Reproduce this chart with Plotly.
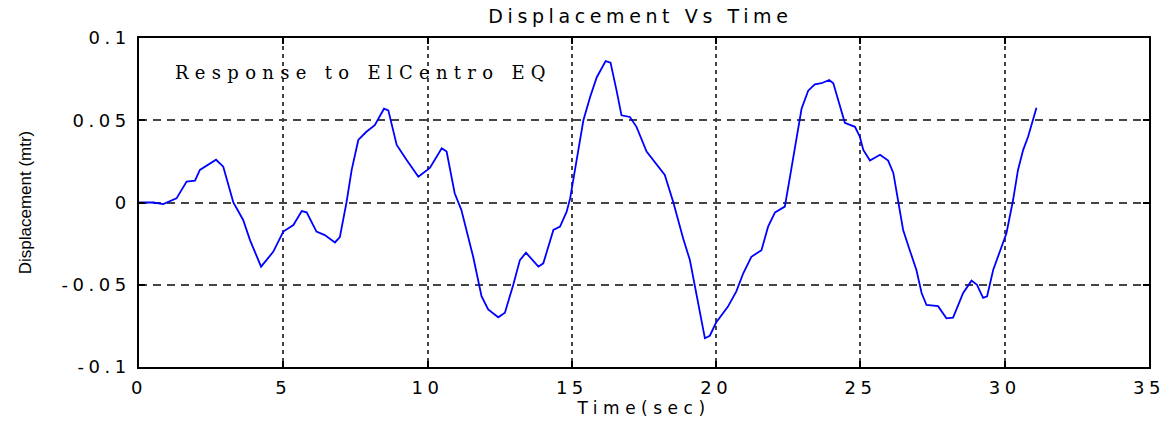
import plotly.graph_objects as go

# Displacement response history (time in seconds, displacement in metres)
time_s = [0, 0.5, 0.84, 1.3, 1.65, 1.94, 2.11, 2.67, 2.92, 3.27, 3.61, 3.85, 4.23, 4.65,
          5.0, 5.35, 5.64, 5.81, 6.15, 6.44, 6.79, 6.96, 7.19, 7.37, 7.6, 7.88, 8.17,
          8.49, 8.64, 8.93, 9.27, 9.68, 10.08, 10.49, 10.66, 10.94, 11.17, 11.58, 11.87,
          12.1, 12.45, 12.68, 12.97, 13.2, 13.41, 13.6, 13.84, 14.01, 14.36, 14.59, 14.82,
          14.94, 15.11, 15.4, 15.63, 15.86, 16.17, 16.34, 16.55, 16.72, 17.01, 17.24,
          17.59, 17.94, 18.22, 18.51, 18.86, 19.09, 19.32, 19.61, 19.78, 20.0, 20.41,
          20.7, 20.94, 21.22, 21.57, 21.8, 22.04, 22.38, 22.56, 22.79, 22.96, 23.19,
          23.42, 23.65, 23.92, 24.06, 24.29, 24.46, 24.81, 24.98, 25.1, 25.33, 25.68,
          25.96, 26.14, 26.31, 26.48, 26.71, 26.94, 27.12, 27.29, 27.69, 27.98, 28.21,
          28.56, 28.85, 29.04, 29.25, 29.39, 29.6, 29.89, 30.06, 30.29, 30.46, 30.64,
          30.81, 31.1]
displacement = [0, 0, -0.001, 0.0025, 0.0127, 0.0133, 0.0198, 0.026, 0.0218, 0.0, -0.0106,
                -0.023, -0.039, -0.030, -0.0177, -0.0137, -0.0052, -0.006, -0.0177,
                -0.0198, -0.0243, -0.021, 0.0, 0.0198, 0.038, 0.043, 0.047, 0.057, 0.056,
                0.035, 0.026, 0.0157, 0.021, 0.033, 0.031, 0.0056, -0.0045, -0.033, -0.057,
                -0.065, -0.0698, -0.067, -0.050, -0.035, -0.0305, -0.034, -0.039, -0.037,
                -0.0167, -0.0147, -0.0056, 0.0025, 0.0198, 0.050, 0.064, 0.076, 0.086,
                0.085, 0.068, 0.053, 0.052, 0.046, 0.031, 0.023, 0.0167, 0.0005, -0.022,
                -0.035, -0.057, -0.0825, -0.081, -0.073, -0.0633, -0.054, -0.043, -0.033,
                -0.029, -0.0147, -0.006, -0.0025, 0.0157, 0.040, 0.057, 0.068, 0.0718,
                0.0725, 0.0745, 0.0725, 0.058, 0.0485, 0.046, 0.040, 0.032, 0.0255, 0.029,
                0.0255, 0.018, 0.0015, -0.0167, -0.029, -0.041, -0.055, -0.0623, -0.063,
                -0.0704, -0.070, -0.055, -0.0475, -0.050, -0.058, -0.057, -0.041, -0.0268,
                -0.0187, 0.0015, 0.0198, 0.032, 0.040, 0.0576]

x_tick_vals = [0, 5, 10, 15, 20, 25, 30, 35]
x_tick_labels = ["0", "5", "10", "15", "20", "25", "30", "35"]
y_tick_vals = [0.1, 0.05, 0, -0.05, -0.1]
y_tick_labels = ["0.1", "0.05", "0", "-0.05", "-0.1"]

TITLE = "Displacement Vs Time"
X_TITLE = "Time(sec)"
Y_TITLE = "Displacement (mtr)"
NOTE = "Response to ElCentro EQ"


def spaced(text, px):
    return f'<span style="letter-spacing:{px}px">{text}</span>'


SANS = "DejaVu Sans"
tick_font = dict(family=SANS, size=18, color="black")

fig = go.Figure()
fig.add_trace(go.Scatter(
    x=time_s, y=displacement, mode="lines",
    line=dict(color="#0000ff", width=1.8),
    showlegend=False, hoverinfo="skip",
))

fig.add_annotation(
    x=1.18, y=0.0793, xref="x", yref="y", xanchor="left", yanchor="middle",
    text=spaced(NOTE, 6.3), showarrow=False,
    font=dict(family="DejaVu Serif", size=18, color="black"),
)

axis_common = dict(
    showline=True, linecolor="black", linewidth=1.5, mirror="ticks",
    ticks="inside", ticklen=6, tickwidth=1.5, tickcolor="black",
    showgrid=True, gridcolor="#444444", gridwidth=1.5, zeroline=False,
    tickfont=tick_font, automargin=False,
)

fig.update_layout(
    width=1175, height=423,
    margin=dict(l=139, r=26, t=38, b=56),
    paper_bgcolor="white", plot_bgcolor="white",
    title=dict(
        text=spaced(TITLE, 4.6), x=0.545, xref="container", xanchor="center",
        y=1 - 16 / 423, yref="container", yanchor="middle",
        font=dict(family=SANS, size=19, color="black"),
    ),
    xaxis=dict(
        range=[0, 35], tickmode="array", tickvals=x_tick_vals,
        ticktext=[spaced(t, 4.5) for t in x_tick_labels],
        griddash="4px,4px", ticklabelstandoff=4,
        title=dict(text=spaced(X_TITLE, 5.5), standoff=4,
                   font=dict(family=SANS, size=17, color="black")),
        **axis_common,
    ),
    yaxis=dict(
        range=[-0.1, 0.1], tickmode="array", tickvals=y_tick_vals,
        ticktext=[spaced(t, 4.5) for t in y_tick_labels],
        griddash="8px,6px", ticklabelstandoff=3,
        title=dict(text=Y_TITLE, standoff=26,
                   font=dict(family="Liberation Sans", size=17, color="black")),
        **axis_common,
    ),
)

fig.write_html("out.html")
